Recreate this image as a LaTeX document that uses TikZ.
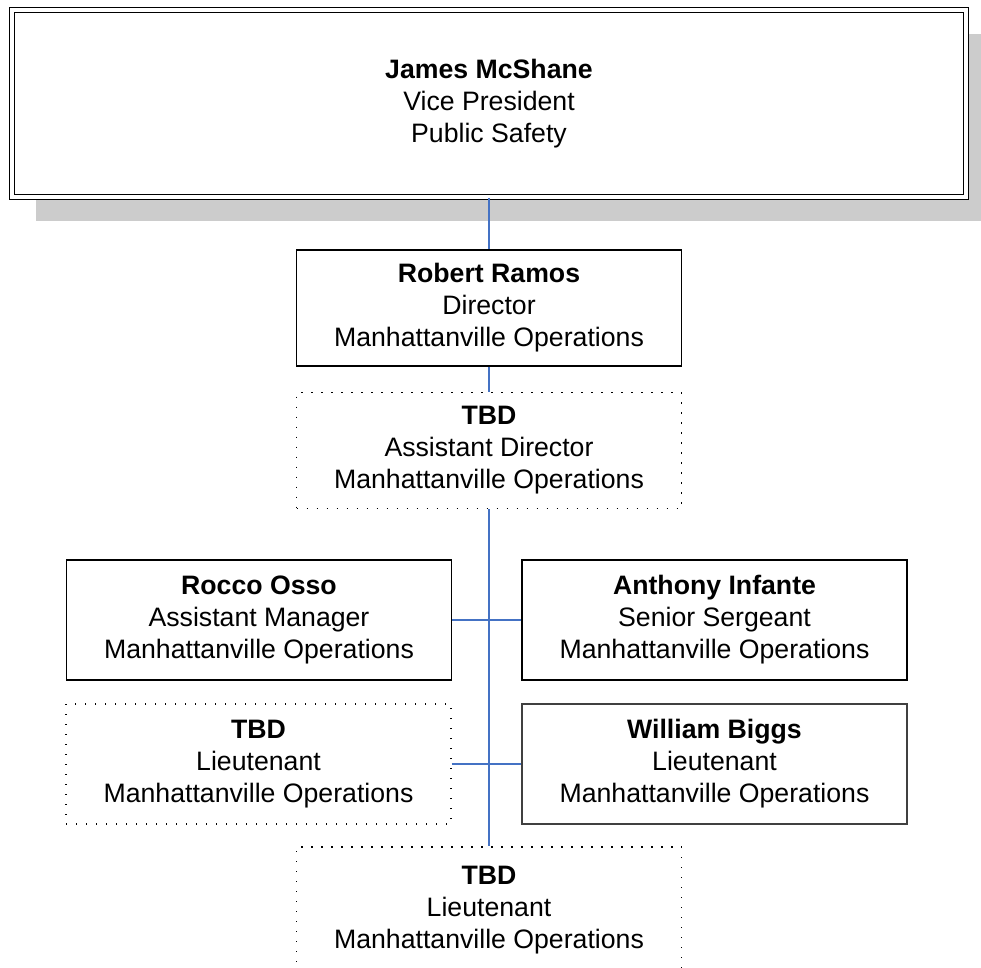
\documentclass[tikz,border=0pt]{standalone}
\usepackage{fontspec}
\setmainfont{Liberation Sans}
\definecolor{linkblue}{RGB}{68,114,196}
\definecolor{shadowgray}{RGB}{204,204,204}

\begin{document}
\def\bw{385}
\def\bh{116}
\def\lwidth{1.1}

\begin{tikzpicture}[x=0.75pt,y=-0.75pt,
	person/.style={rectangle,inner sep=0pt,align=center,font=\fontsize{20}{24}\selectfont,minimum width=\bw*0.75pt,minimum height=\bh*0.75pt},
	solidbox/.style={person,draw,line width=\lwidth pt},
	openbox/.style={person,draw,line width=1pt,dash pattern=on 1pt off 6.5pt},
	topbox/.style={person,draw,line width=1.2pt,double,double distance=2.4pt,fill=white,minimum width=954*0.75pt,minimum height=187*0.75pt},
	link/.style={draw=linkblue,line width=1.5pt}]
			\useasboundingbox (0,0) rectangle (981,967);
			\clip (0,0) rectangle (981,967);
			% vice president with shadow
			\fill[shadowgray] (35.5,34) rectangle (990,221);
			\node[topbox] (vp) at (489,103.5) {\textbf{James McShane}\\Vice President\\Public Safety};
			% director and assistant
			\node[solidbox] (dir) at (489,308) {\textbf{Robert Ramos}\\Director\\Manhattanville Operations};
			\node[openbox] (adir) at (489,450.5) {\textbf{TBD}\\Assistant Director\\Manhattanville Operations};
			% staff
			\node[solidbox,minimum height=120*0.75pt] (mgr) at (259,620) {\textbf{Rocco Osso}\\Assistant Manager\\Manhattanville Operations};
			\node[solidbox,minimum height=120*0.75pt] (sgt) at (714.5,620) {\textbf{Anthony Infante}\\Senior Sergeant\\Manhattanville Operations};
			\node[openbox,minimum height=120*0.75pt] (lta) at (258.5,764) {\textbf{TBD}\\Lieutenant\\Manhattanville Operations};
			\node[solidbox,draw=black!75,minimum height=120*0.75pt] (ltb) at (714.5,764) {\textbf{William Biggs}\\Lieutenant\\Manhattanville Operations};
			\node[openbox,minimum height=126*0.75pt] (ltc) at (489,910) {\textbf{TBD}\\Lieutenant\\Manhattanville Operations};
			% connectors
			\path[link] (vp.south) -- (dir.north);
			\path[link] (dir.south) -- (adir.north);
			\path[link,line width=1.8pt] (adir.south) -- (ltc.north);
			\path[link] (mgr.east) -- (sgt.west);
			\path[link] (lta.east) -- (ltb.west);
		\end{tikzpicture}
\end{document}
